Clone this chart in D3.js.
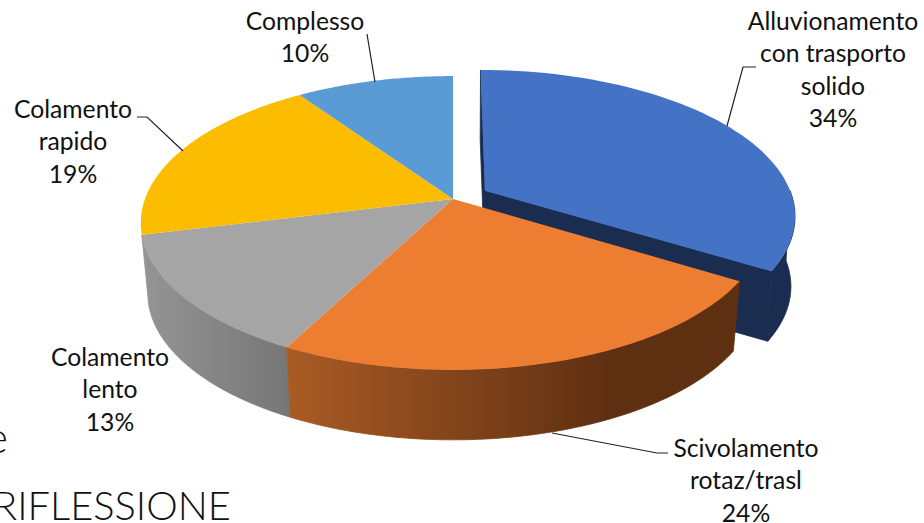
<!DOCTYPE html>
<html>
<head>
<meta charset="utf-8">
<script src="https://cdn.jsdelivr.net/npm/d3@7"></script>
<style>
  html, body { margin: 0; padding: 0; background: #fff; overflow: hidden; }
  text { font-family: Lato, "Open Sans", sans-serif; fill: #111; }
</style>
</head>
<body>
<svg id="chart" width="924" height="523"></svg>
<script>
const categories = ["Alluvionamento con trasporto solido", "Scivolamento rotaz/trasl", "Colamento lento", "Colamento rapido", "Complesso"];
const values = [33.6, 23.7, 13.4, 19.2, 9.5];
const colors = ["#4472c4", "#ed7d31", "#a5a5a5", "#fcbc00", "#5b9bd5"];
const labelLines = [
  ["Alluvionamento", "con trasporto", "solido"],
  ["Scivolamento", "rotaz/trasl"],
  ["Colamento", "lento"],
  ["Colamento", "rapido"],
  ["Complesso"]
];

// where the labels sit, same order as categories
const labelX = [833, 746, 110, 73, 305];
const labelY = [30, 457, 366, 118, 30];
const leaders = [
  "M727,126L743,67L756,67",
  "M552,433L657,453L668,453",
  null,
  "M183,151L147,117L137,117",
  "M367,34L375,82"
];

// perspective of the disc
const cx = 453, cy = 199;
const X = 308, Y = 143, k = 0.163;
const depthPx = 70;
const shrink = [0.012, 0.022, 0.022, 0.022, 0.022];
const explode = 0.12;

const svg = d3.select("#chart");

function project(u, v, depth, i) {
  const w = 1 - k * v;
  return [
    cx + X * u / w * (1 - depth * shrink[i]),
    cy + Y * v / w + depth * depthPx
  ];
}

const slices = d3.pie().sort(null).value(d => d)(values);

function offset(i) {
  if (i !== 0) return [0, 0];
  const mid = (slices[0].startAngle + slices[0].endAngle) / 2;
  return [explode * Math.sin(mid), -explode * Math.cos(mid)];
}

function rimPoints(start, end, i, depth) {
  const [ox, oy] = offset(i);
  const n = 60;
  return d3.range(n + 1).map(j => {
    const a = start + (end - start) * j / n;
    return project(Math.sin(a) + ox, -Math.cos(a) + oy, depth, i);
  });
}

function apex(i, depth) {
  const [ox, oy] = offset(i);
  return project(ox, oy, depth, i);
}

const line = d3.line().curve(d3.curveLinear);
const closed = pts => line(pts) + "Z";

const defs = svg.append("defs");
function wallGradient(id, x1, x2, from, to) {
  const g = defs.append("linearGradient").attr("id", id)
    .attr("gradientUnits", "userSpaceOnUse")
    .attr("x1", x1).attr("x2", x2).attr("y1", 0).attr("y2", 0);
  g.append("stop").attr("offset", 0).attr("stop-color", from);
  g.append("stop").attr("offset", 1).attr("stop-color", to);
}
wallGradient("wall-orange", 288, 610, "#a95b24", "#5f2f12");
wallGradient("wall-gray", 145, 290, "#949494", "#767676");

const wallFill = ["#1a2c50", "url(#wall-orange)", "url(#wall-gray)", "#a5a5a5", "#5b9bd5"];

function wallPath(g, pts, i) {
  g.append("path").attr("d", closed(pts)).attr("fill", wallFill[i]).attr("stroke", wallFill[i]).attr("stroke-width", 0.8);
}

function drawWalls(i) {
  const s = slices[i];
  const g = svg.append("g").attr("class", "walls");
  // only the part of the rim that faces the viewer
  const start = Math.max(s.startAngle, Math.PI / 2);
  const top = rimPoints(start, s.endAngle, i, 0), bottom = rimPoints(start, s.endAngle, i, 1);
  if (i === 0) {
    const a0 = apex(i, 0), a1 = apex(i, 1);
    const first = rimPoints(s.startAngle, s.endAngle, i, 0)[0];
    const firstLow = rimPoints(s.startAngle, s.endAngle, i, 1)[0];
    wallPath(g, [a0, first, firstLow, a1], i);
    wallPath(g, [a0, top[top.length - 1], bottom[bottom.length - 1], a1], i);
  }
  wallPath(g, top.concat(bottom.slice().reverse()), i);
}

function drawTop(i) {
  svg.append("path")
    .attr("class", "slice")
    .attr("d", closed([apex(i, 0)].concat(rimPoints(slices[i].startAngle, slices[i].endAngle, i, 0))))
    .attr("fill", colors[i]);
}

drawWalls(0);
drawTop(0);
drawWalls(2);
drawWalls(1);
[1, 2, 3, 4].forEach(drawTop);

svg.selectAll(".leader")
  .data(leaders.filter(d => d))
  .join("path")
  .attr("class", "leader")
  .attr("d", d => d)
  .attr("fill", "none")
  .attr("stroke", "#222")
  .attr("stroke-width", 1.2);

categories.forEach((c, i) => {
  const rows = labelLines[i].concat(Math.round(values[i]) + "%");
  const t = svg.append("text")
    .attr("text-anchor", "middle")
    .attr("font-size", 24.7);
  rows.forEach((r, j) => {
    t.append("tspan").attr("x", labelX[i]).attr("y", labelY[i] + j * 32.3).text(r);
  });
});

// text of the slide behind the chart
svg.append("text").attr("x", -15).attr("y", 453).attr("font-size", 44).attr("font-weight", 300).text("e");
svg.append("text").attr("x", -7).attr("y", 520).attr("font-size", 39.8).attr("font-weight", 300).text("RIFLESSIONE");
</script>
</body>
</html>
